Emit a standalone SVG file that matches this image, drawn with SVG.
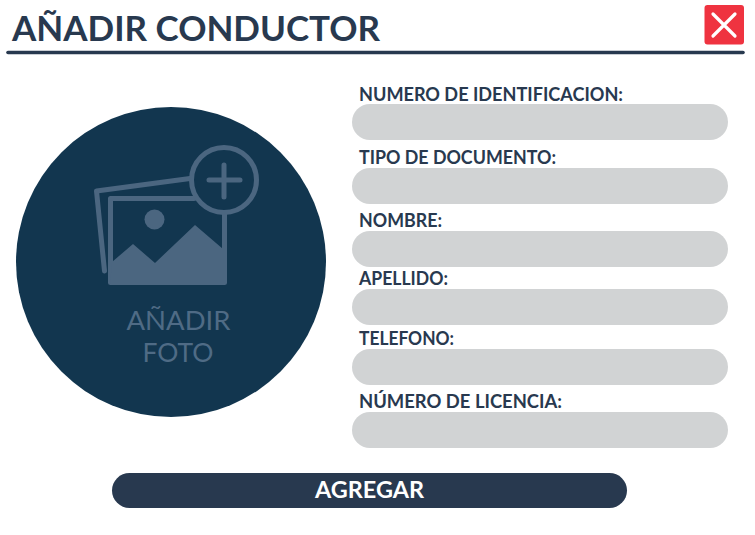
<svg xmlns="http://www.w3.org/2000/svg" width="755" height="535" viewBox="0 0 755 535">
<style>
text{font-family:"Lato","Liberation Sans",sans-serif}
.lbl{font-size:18.5px;font-weight:700;fill:#28394f}
.fld{fill:#d1d3d4}
.ic{fill:none;stroke:#4b6680;stroke-width:5;stroke-linecap:round;stroke-linejoin:round}
.ph{font-size:27.5px;fill:#4f6b85}
</style>
<rect width="755" height="535" fill="#ffffff"/>
<g id="header">
<text x="12" y="40.500" font-size="35" font-weight="700" fill="#28394f" textLength="368" lengthAdjust="spacingAndGlyphs">AÑADIR CONDUCTOR</text>
<line x1="8" y1="52.500" x2="743" y2="52.500" stroke="#28394f" stroke-width="3.600" stroke-linecap="round"/>
</g>
<g id="close">
<rect x="704.500" y="5" width="39.500" height="39.500" rx="3" fill="#ef3340"/>
<path d="M713 14L735 36M735 14L713 36" stroke="#ffffff" stroke-width="3.200" stroke-linecap="round" fill="none"/>
</g>
<g id="photo">
<circle cx="171" cy="262" r="155" fill="#12364f"/>
<path class="ic" d="M190 178.500L96.500 191L104.500 271"/>
<path class="ic" d="M194 198.500H110.500V282.500H224.500V214"/>
<path d="M112 262L133 244L155 263L195 225L223 249V284H110Z" fill="#4b6680"/>
<circle cx="154.500" cy="219.500" r="10" fill="#4b6680"/>
<circle class="ic" cx="224" cy="180" r="32.500"/>
<path class="ic" d="M209 180H240M224 165V197"/>
<text class="ph" x="178.500" y="330" text-anchor="middle" textLength="104" lengthAdjust="spacingAndGlyphs">AÑADIR</text>
<text class="ph" x="178" y="362" text-anchor="middle" textLength="71" lengthAdjust="spacingAndGlyphs">FOTO</text>
</g>
<g id="field-id">
<text class="lbl" x="359" y="100.500" textLength="264" lengthAdjust="spacingAndGlyphs">NUMERO DE IDENTIFICACION:</text>
<rect class="fld" x="352" y="104" width="376" height="36" rx="18"/>
</g>
<g id="field-doc">
<text class="lbl" x="359" y="164" textLength="197" lengthAdjust="spacingAndGlyphs">TIPO DE DOCUMENTO:</text>
<rect class="fld" x="352" y="168" width="376" height="36" rx="18"/>
</g>
<g id="field-name">
<text class="lbl" x="359" y="226.500" textLength="83" lengthAdjust="spacingAndGlyphs">NOMBRE:</text>
<rect class="fld" x="352" y="231" width="376" height="36" rx="18"/>
</g>
<g id="field-surname">
<text class="lbl" x="359" y="284.500" textLength="89" lengthAdjust="spacingAndGlyphs">APELLIDO:</text>
<rect class="fld" x="352" y="289" width="376" height="36" rx="18"/>
</g>
<g id="field-phone">
<text class="lbl" x="359" y="345" textLength="95" lengthAdjust="spacingAndGlyphs">TELEFONO:</text>
<rect class="fld" x="352" y="349" width="376" height="36" rx="18"/>
</g>
<g id="field-license">
<text class="lbl" x="359" y="407.500" textLength="203" lengthAdjust="spacingAndGlyphs">NÚMERO DE LICENCIA:</text>
<rect class="fld" x="352" y="412" width="376" height="36" rx="18"/>
</g>
<g id="submit">
<rect x="112" y="473" width="515" height="35" rx="17.500" fill="#28394f"/>
<text x="369.500" y="498" text-anchor="middle" font-size="23" font-weight="700" fill="#ffffff" textLength="109" lengthAdjust="spacingAndGlyphs">AGREGAR</text>
</g>
</svg>
